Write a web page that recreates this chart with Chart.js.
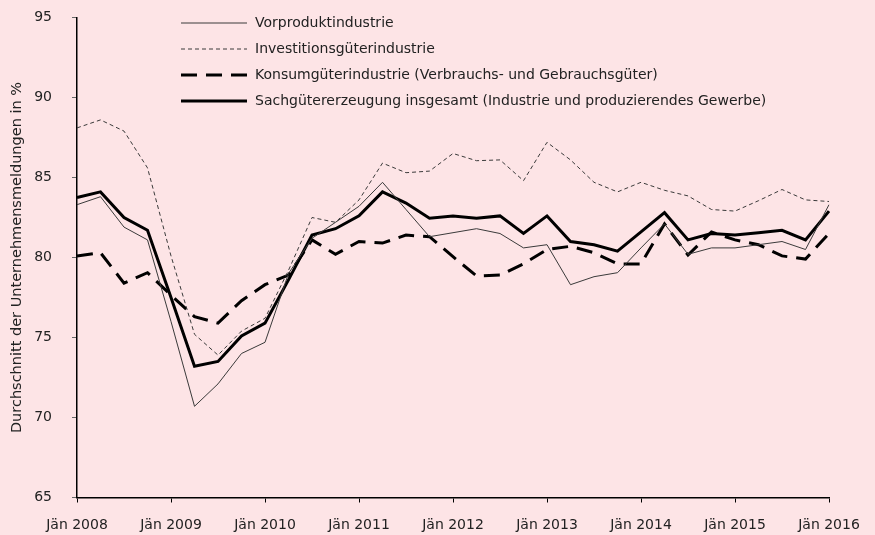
<!DOCTYPE html>
<html>
<head>
<meta charset="utf-8">
<script src="https://cdn.jsdelivr.net/npm/chart.js@4/dist/chart.umd.min.js"></script>
<style>
  html, body { margin: 0; padding: 0; background: #fde4e6; }
  #wrap { width: 875px; height: 535px; }
</style>
</head>
<body>
<div id="wrap"><canvas id="chart-1" width="875" height="535"></canvas></div>
<script>
// quarterly values, Jän 2008 .. Jän 2016
const years = [2008, 2009, 2010, 2011, 2012, 2013, 2014, 2015, 2016];
const months = ['Jän', 'Apr', 'Jul', 'Okt'];

const vorprodukt = [83.3, 83.8, 81.9, 81.1, 76.0, 70.7, 72.1, 74.0, 74.7, 79.0, 81.2,
    82.2, 83.2, 84.7, 83.0, 81.3, 81.55, 81.8, 81.5, 80.6, 80.8, 78.3, 78.8,
    79.05, 80.6, 82.1, 80.2, 80.6, 80.6, 80.8, 81.0, 80.5, 83.3];
const investition = [88.1, 88.6, 87.9, 85.6, 80.1, 75.2, 73.9, 75.4, 76.2, 79.2, 82.5,
    82.2, 83.6, 85.9, 85.3, 85.4, 86.5, 86.05, 86.1, 84.8, 87.2, 86.1, 84.7,
    84.1, 84.7, 84.2, 83.85, 83.0, 82.9, 83.55, 84.25, 83.6, 83.5];
const konsum = [80.1, 80.3, 78.4, 79.05, 77.65, 76.3, 75.9, 77.3, 78.3, 78.9, 81.1,
    80.2, 81.0, 80.9, 81.4, 81.3, 80.05, 78.85, 78.9, 79.6, 80.5, 80.7, 80.3,
    79.6, 79.6, 82.1, 80.15, 81.6, 81.1, 80.8, 80.1, 79.9, 81.5];
const gesamt = [83.75, 84.1, 82.5, 81.7, 77.5, 73.2, 73.5, 75.1, 75.9, 78.6, 81.4,
    81.8, 82.6, 84.1, 83.4, 82.45, 82.6, 82.45, 82.6, 81.5, 82.6, 81.0, 80.8,
    80.4, 81.6, 82.8, 81.1, 81.5, 81.4, 81.55, 81.7, 81.1, 82.9];

const seriesNames = [
    'Vorproduktindustrie',
    'Investitionsgüterindustrie',
    'Konsumgüterindustrie (Verbrauchs- und Gebrauchsgüter)',
    'Sachgütererzeugung insgesamt (Industrie und produzierendes Gewerbe)'
];

const yTicks = [65, 70, 75, 80, 85, 90, 95];

// build quarter labels; only the January ones get printed
let labels = [];
years.forEach(y => {
    months.forEach(m => labels.push(m + ' ' + y));
});
labels = labels.slice(0, vorprodukt.length);

const FONT = 'DejaVu Sans';
const INK = '#222';
const BG = '#fde4e6';

const bgPlugin = {
    id: 'bg',
    beforeDraw(chart) {
        const c = chart.ctx;
        c.save();
        c.fillStyle = BG;
        c.fillRect(0, 0, chart.width, chart.height);
        c.restore();
    }
};

// legend inside the plot: line sample + text, one row per series
const lineLegend = {
    id: 'lineLegend',
    afterDraw(chart) {
        const c = chart.ctx;
        const x0 = 181, x1 = 247, tx = 255;
        const top = 23, step = 26;
        c.save();
        chart.data.datasets.forEach((ds, i) => {
            const y = top + i * step;
            c.beginPath();
            c.strokeStyle = ds.borderColor;
            c.lineWidth = ds.borderWidth;
            c.setLineDash(ds.borderDash || []);
            c.moveTo(x0, y);
            c.lineTo(x1, y);
            c.stroke();
            c.setLineDash([]);
            c.fillStyle = INK;
            c.font = '14px "' + FONT + '"';
            c.textBaseline = 'middle';
            c.fillText(ds.label, tx, y);
        });
        c.restore();
    }
};

const ctx = document.getElementById('chart-1').getContext('2d');
const chart_1 = new Chart(ctx, {
    type: 'line',
    data: {
        labels: labels,
        datasets: [
            {
                label: seriesNames[0],
                data: vorprodukt,
                borderColor: '#3a3a3a',
                borderWidth: 1,
                pointRadius: 0,
                tension: 0
            },
            {
                label: seriesNames[1],
                data: investition,
                borderColor: '#3a3a3a',
                borderWidth: 1,
                borderDash: [4, 3],
                pointRadius: 0,
                tension: 0
            },
            {
                label: seriesNames[2],
                data: konsum,
                borderColor: '#000',
                borderWidth: 3,
                borderDash: [16, 9],
                pointRadius: 0,
                tension: 0
            },
            {
                label: seriesNames[3],
                data: gesamt,
                borderColor: '#000',
                borderWidth: 3,
                pointRadius: 0,
                tension: 0
            }
        ]
    },
    options: {
        responsive: false,
        animation: false,
        layout: { padding: { top: 17.5, right: 46, left: 0, bottom: 0 } },
        plugins: {
            legend: { display: false },
            tooltip: { enabled: false }
        },
        scales: {
            x: {
                offset: false,
                grid: { drawOnChartArea: false, drawTicks: true, tickLength: 5, color: '#000' },
                border: { display: true, color: '#000', width: 1.5 },
                ticks: {
                    autoSkip: false,
                    maxRotation: 0,
                    padding: 14,
                    color: INK,
                    font: { family: FONT, size: 14 },
                    callback: function (v, i) { return i % 4 === 0 ? labels[i] : null; }
                },
                afterFit(scale) { scale.height = 37.5; }
            },
            y: {
                min: 65,
                max: 95,
                afterBuildTicks(scale) { scale.ticks = yTicks.map(v => ({ value: v })); },
                grid: { drawOnChartArea: false, drawTicks: true, tickLength: 5, color: '#666' },
                border: { display: true, color: '#000', width: 1.5 },
                ticks: {
                    padding: 20,
                    color: INK,
                    font: { family: FONT, size: 14 }
                },
                title: {
                    display: true,
                    text: 'Durchschnitt der Unternehmensmeldungen in %',
                    color: INK,
                    font: { family: FONT, size: 14.5 },
                    padding: { top: 9, bottom: 0 }
                },
                afterFit(scale) {
                    scale.width = 77;
                    // keep the label padding from pushing the plot area down
                    scale.paddingTop = 0;
                    scale.paddingBottom = 0;
                }
            }
        }
    },
    plugins: [bgPlugin, lineLegend]
});
</script>
</body>
</html>
